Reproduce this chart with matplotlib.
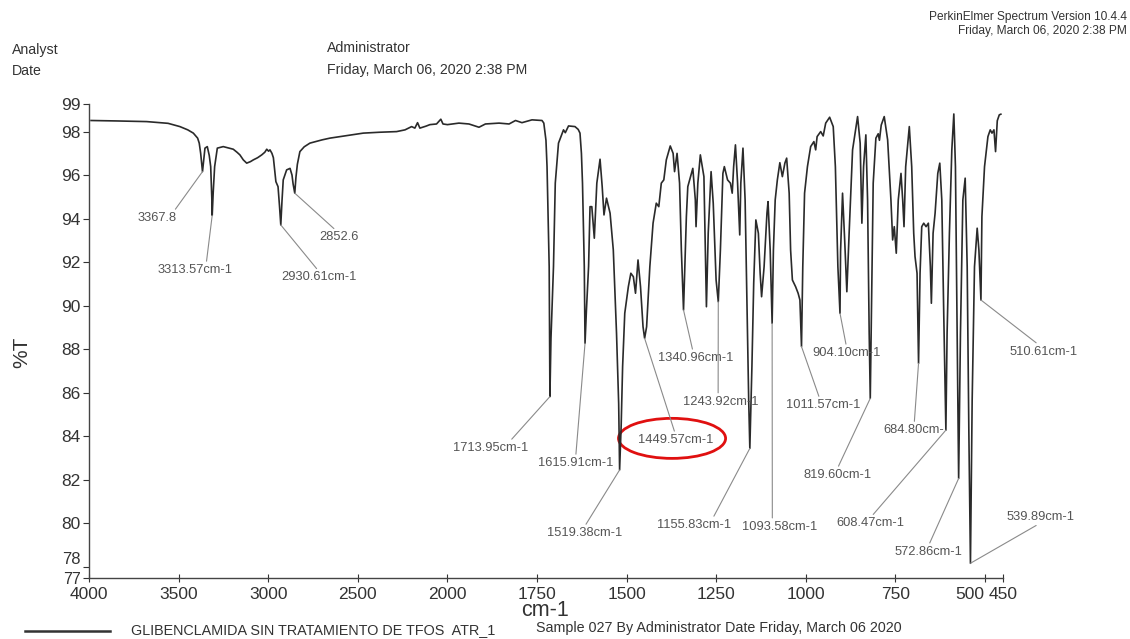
import numpy as np
import matplotlib
matplotlib.use('Agg')
import matplotlib.pyplot as plt
from matplotlib.patches import Ellipse
from matplotlib.lines import Line2D

plt.rcParams['font.family'] = ['Liberation Sans', 'DejaVu Sans']

# 光谱数据 (cm-1, %T)
wavenumber = [
    3990, 3850, 3680, 3560, 3494, 3450, 3419, 3395, 3386, 3378, 3372, 3367.8, 3362, 3354,
    3341, 3330, 3322, 3316, 3313.57, 3308, 3300, 3285, 3252, 3225, 3196, 3175, 3159, 3140,
    3121, 3100, 3084, 3060, 3037, 3020, 3009, 2999, 2991, 2980, 2972, 2962, 2958, 2946,
    2938, 2930.61, 2924, 2917, 2898, 2879, 2868, 2862, 2852.6, 2846, 2838, 2824, 2800,
    2768, 2700, 2656, 2560, 2470, 2380, 2284, 2237, 2200, 2182, 2167, 2154, 2120, 2098,
    2061, 2037, 2025, 2000, 1968, 1940, 1912, 1894, 1856, 1828, 1810, 1792, 1764, 1736,
    1731, 1725, 1722, 1716, 1713.95, 1711, 1704, 1699, 1690, 1676, 1671, 1662, 1644,
    1635, 1630, 1626, 1623, 1618, 1615.91, 1612, 1606, 1602, 1597, 1590, 1583, 1574,
    1568, 1563, 1556, 1546, 1537, 1528, 1522, 1519.38, 1515, 1511, 1505, 1495, 1488,
    1481, 1475, 1468, 1461, 1454, 1449.57, 1444, 1435, 1426, 1417, 1410, 1403, 1396,
    1389, 1378, 1370, 1366, 1359, 1352, 1347, 1340.96, 1333, 1329, 1315, 1308, 1306,
    1301, 1294, 1284, 1281, 1277, 1272, 1264, 1258, 1250, 1243.92, 1238, 1231, 1227,
    1218, 1210, 1205, 1201, 1196, 1190, 1184, 1181, 1175, 1169, 1164, 1159, 1155.83,
    1150, 1145, 1139, 1132, 1127, 1123, 1116, 1108, 1105, 1099, 1093.58, 1090, 1085,
    1079, 1072, 1065, 1058, 1053, 1046, 1042, 1037, 1028, 1021, 1016, 1011.57, 1008,
    1003, 995, 986, 977, 972, 968, 958, 951, 944, 933, 923, 917, 910, 904.10, 902.5,
    897, 891, 885, 878.6, 869, 855, 847.8, 843, 838.3, 831.9, 827.1, 822.6, 819.60,
    815.9, 811.4, 803.9, 797.4, 794, 789, 780.6, 771.1, 761.9, 757.1, 752.6, 747, 741.4,
    733.8, 729.1, 725.4, 720.7, 710.6, 703.9, 698.3, 694.6, 689, 684.80, 680.6, 675.9,
    670.3, 663.8, 657.4, 651.8, 649, 644.2, 638.6, 631.1, 625.5, 619.9, 614.3, 608.47,
    605.1, 598.6, 591.9, 586.3, 581.8, 577, 572.86, 567.8, 561.1, 554.6, 549, 544.3,
    539.89, 535.1, 528.6, 521.1, 516.3, 510.61, 507.9, 500.6, 491.1, 484.6, 479.8,
    474.3, 469.8, 465, 459.4, 455,
]
transmittance = [
    98.51, 98.49, 98.46, 98.38, 98.23, 98.08, 97.93, 97.70, 97.47, 97.0, 96.5, 96.16, 96.6, 97.24,
    97.31, 96.9, 96.39, 95.0, 94.15, 95.2, 96.39, 97.24, 97.31, 97.25, 97.19, 97.05, 96.93, 96.70,
    96.55, 96.62, 96.70, 96.80, 96.93, 97.05, 97.19, 97.10, 97.16, 97.0, 96.8, 96.0, 95.70, 95.47,
    94.6, 93.71, 94.8, 95.78, 96.24, 96.31, 96.0, 95.6, 95.17, 95.9, 96.5, 97.08, 97.30,
    97.47, 97.62, 97.70, 97.82, 97.93, 97.97, 98.0, 98.08, 98.23, 98.16, 98.41, 98.16, 98.25, 98.32,
    98.35, 98.57, 98.35, 98.32, 98.39, 98.35, 98.2, 98.35, 98.39, 98.35, 98.51, 98.41, 98.54, 98.51,
    98.39, 97.6, 96.39, 91.79, 85.82, 88.5, 91.79, 95.63, 97.47, 98.08, 97.95, 98.26, 98.23,
    98.1, 97.93, 97.0, 95.63, 91.8, 88.27, 89.8, 91.8, 94.55, 94.55, 93.10, 95.63, 96.73,
    95.47, 94.17, 94.94, 94.25, 92.56, 88.73, 85.5, 82.45, 84.5, 87.2, 89.65, 90.87, 91.49,
    91.33, 90.57, 92.1, 90.87, 89.03, 88.50, 89.03, 91.79, 93.79, 94.71, 94.55, 95.63, 95.78,
    96.7, 97.34, 97.0, 96.16, 97.0, 95.63, 92.56, 89.8, 94.09, 95.47, 96.31, 94.86, 93.63,
    95.63, 96.93, 95.93, 93.33, 89.95, 93.33, 96.16, 94.71, 91.18, 90.18, 92.56, 96.08, 96.39,
    95.78, 95.63, 95.17, 96.39, 97.39, 95.63, 93.25, 95.63, 97.24, 94.86, 90.26, 85.66, 83.44,
    87.2, 91.03, 93.94, 93.33, 91.49, 90.41, 91.79, 94.25, 94.78, 92.56, 89.19, 92.56, 94.86,
    95.78, 96.57, 95.93, 96.55, 96.78, 95.17, 92.56, 91.18, 90.87, 90.57, 90.26, 88.12, 91.79,
    95.17, 96.39, 97.31, 97.54, 97.16, 97.77, 98.0, 97.8, 98.39, 98.66, 98.23, 96.39, 91.79, 89.65, 92.5,
    95.17, 93.0, 90.64, 93.33, 97.16, 98.69, 97.47, 93.79, 96.39, 97.85, 94.86, 88.73, 85.74,
    90.26, 95.63, 97.7, 97.9, 97.6, 98.3, 98.69, 97.62, 94.86, 93.02, 93.63, 92.41, 94.86,
    96.08, 94.86, 93.63, 96.39, 98.23, 96.39, 93.33, 92.25, 91.49, 87.35, 91.49, 93.63,
    93.79, 93.63, 93.79, 91.79, 90.11, 93.33, 94.25, 96.08, 96.55, 94.86, 89.49, 84.28,
    88.73, 93.33, 97.16, 98.81, 96.39, 88.73, 82.06, 88.73, 94.86, 95.86, 91.79, 84.13,
    78.16, 85.66, 91.79, 93.56, 92.56, 90.26, 94.09, 96.39, 97.77, 98.08, 97.93,
    98.08, 97.08, 98.5, 98.77, 98.8,
]

# 峰标注
peak_labels = ['3367.8', '3313.57cm-1', '2930.61cm-1', '2852.6', '1713.95cm-1',
               '1615.91cm-1', '1519.38cm-1', '1449.57cm-1', '1340.96cm-1', '1243.92cm-1',
               '1155.83cm-1', '1093.58cm-1', '1011.57cm-1', '904.10cm-1', '819.60cm-1',
               '684.80cm-', '608.47cm-1', '572.86cm-1', '539.89cm-1', '510.61cm-1']
peak_wn = [3367.8, 3313.57, 2930.61, 2852.6, 1713.95, 1615.91, 1519.38, 1449.57, 1340.96,
           1243.92, 1155.83, 1093.58, 1011.57, 904.10, 819.60, 684.80, 608.47, 572.86,
           539.89, 510.61]

# 标签位置 (cm-1, %T) 和连线端点
label_pos = [(3622, 94.03), (3410, 91.64), (2718, 91.30), (2606, 93.14), (1880, 83.46),
             (1642, 82.77), (1618, 79.55), (1364, 83.83), (1308, 87.60), (1238, 85.59),
             (1312, 79.92), (1072, 79.84), (950, 85.43), (886, 87.83), (910, 82.22),
             (697, 84.28), (818, 80.0), (657, 78.69), (343, 80.30), (337, 87.89)]
label_relpos = [(0.92, 1), (0.65, 1), (0.5, 1), (0.45, 1), (0.75, 1),
                (0.5, 1), (0.5, 1), (0.5, 1), (0.47, 1), (0.47, 1),
                (0.75, 1), (0.4, 1), (0.45, 1), (0.5, 1), (0.49, 1),
                (0.5, 1), (0.5, 1), (0.5, 1), (0.5, 0), (0.45, 1)]

xticks = [4000, 3500, 3000, 2500, 2000, 1750, 1500, 1250, 1000, 750, 500, 450]
y_bottom, y_top = 77.46, 99.27
yticks = [y_bottom, 78, 80, 82, 84, 86, 88, 90, 92, 94, 96, 98, y_top]
ytick_labels = ['77', '78', '80', '82', '84', '86', '88', '90', '92', '94', '96', '98', '99']


def fwd(x):
    x = np.asarray(x, dtype=float)
    return np.where(x >= 2000, x, 2 * x - 2000)


def inv(u):
    u = np.asarray(u, dtype=float)
    return np.where(u >= 2000, u, (u + 2000) / 2)


fig = plt.figure(figsize=(11.3, 6.39), dpi=100)
ax = fig.add_axes([0.0790, 0.0947, 0.8083, 0.7426])
ax.set_xscale('function', functions=(fwd, inv))
ax.plot(wavenumber, transmittance, color='#2a2a2a', linewidth=1.2)
ax.set_xlim(4000, 450)
ax.set_ylim(y_bottom, y_top)

ax.set_xticks(xticks, [str(t) for t in xticks])
ax.set_yticks(yticks, ytick_labels)
ax.minorticks_off()
ax.tick_params(axis='y', direction='out', length=4, width=0.8, pad=2,
               labelsize=12.5, colors='#333333')
ax.tick_params(axis='x', direction='inout', length=6, width=0.8, pad=3,
               labelsize=12.5, colors='#333333')
for lab in ax.get_xticklabels():
    if lab.get_text() == '500':
        lab.set_ha('right')
for lab in ax.get_yticklabels():
    if lab.get_text() == '78':
        lab.set_va('bottom')
        lab.set_fontsize(12)
    if lab.get_text() == '77':
        lab.set_va('center_baseline')
        lab.set_fontsize(11.5)
for side in ['top', 'right']:
    ax.spines[side].set_visible(False)
for side in ['left', 'bottom']:
    ax.spines[side].set_color('#444444')
    ax.spines[side].set_linewidth(1.0)

# 峰标注
wn_arr = np.array(wavenumber)
t_arr = np.array(transmittance)
for text, wn, pos, rp in zip(peak_labels, peak_wn, label_pos, label_relpos):
    t = t_arr[np.argmin(np.abs(wn_arr - wn))]
    ax.annotate(text, xy=(wn, t), xytext=pos, ha='center', va='center',
                fontsize=9.3, color='#555555', annotation_clip=False,
                arrowprops=dict(arrowstyle='-', color='#8a8a8a', lw=0.8,
                                shrinkA=0, shrinkB=0, relpos=rp))

# 红色圈
ax.add_patch(Ellipse((1373, 83.90), width=299, height=1.84, fill=False,
                     edgecolor='#e01010', linewidth=2))

fig.text(22 / 1130, 1 - 352 / 639, '%T', rotation=90, ha='center', va='center',
         fontsize=15, color='#333333')
fig.text(545 / 1130, 1 - 611 / 639, 'cm-1', ha='center', va='center',
         fontsize=15.5, color='#333333')

hdr = ['Liberation Sans Narrow', 'Liberation Sans', 'DejaVu Sans']
fig.text(0.9973, 1 - 17 / 639, 'PerkinElmer Spectrum Version 10.4.4', ha='right',
         va='center', fontsize=8.6, family=hdr, color='#333333')
fig.text(0.9973, 1 - 31 / 639, 'Friday, March 06, 2020 2:38 PM', ha='right',
         va='center', fontsize=8.6, family=hdr, color='#333333')
fig.text(12 / 1130, 1 - 50 / 639, 'Analyst', ha='left', va='center',
         fontsize=10.2, family=hdr, color='#333333')
fig.text(12 / 1130, 1 - 71 / 639, 'Date', ha='left', va='center',
         fontsize=10.2, family=hdr, color='#333333')
fig.text(327 / 1130, 1 - 48 / 639, 'Administrator', ha='left', va='center',
         fontsize=10.2, family=hdr, color='#333333')
fig.text(327 / 1130, 1 - 70 / 639, 'Friday, March 06, 2020 2:38 PM', ha='left',
         va='center', fontsize=10.2, family=hdr, color='#333333')

# 图例
fig.add_artist(Line2D([25 / 1130, 110 / 1130], [1 - 631 / 639] * 2,
                      transform=fig.transFigure, color='#333333', linewidth=1.8))
fig.text(131 / 1130, 1 - 630 / 639, 'GLIBENCLAMIDA SIN TRATAMIENTO DE TFOS  ATR_1',
         ha='left', va='center', fontsize=10.4, family=hdr, color='#333333')
fig.text(536 / 1130, 1 - 628 / 639, 'Sample 027 By Administrator Date Friday, March 06 2020',
         ha='left', va='center', fontsize=10.3, family=hdr, color='#333333')

fig.savefig('out.png', dpi=100)
